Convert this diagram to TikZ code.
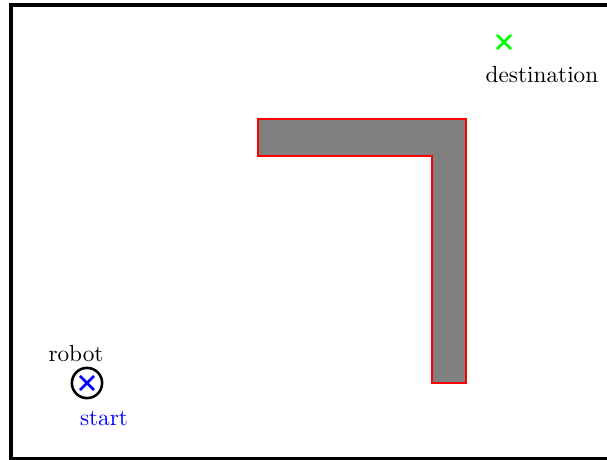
\documentclass[tikz,border=0pt]{standalone}
\usetikzlibrary{shapes.misc}
\begin{document}
\begin{tikzpicture}[x=0.43pt,y=-0.43pt,
  mark/.style={draw=#1,cross out,line width=1.1pt,minimum size=5pt,inner sep=0pt},
  lbl/.style={inner sep=0pt}]
\useasboundingbox (0,0) rectangle (607,459);
\begin{scope}
\clip (0,0) rectangle (607,459);
\draw[line width=1.7pt] (11,5) rectangle (640,459);
\end{scope}
\draw[red,line width=1pt,fill=gray]
  (258,119) -- (466,119) -- (466,383) -- (432,383) -- (432,156) -- (258,156) -- cycle;
\node[mark=green] (dest) at (504,42) {};
\node[lbl,anchor=north] (destlbl) at (542,66) {destination};
\node[draw,circle,line width=1.1pt,minimum size=13pt,inner sep=0pt] (robot) at (87,383) {};
\node[mark=blue] (start) at (robot.center) {};
\node[lbl,anchor=south] (robotlbl) at (76,362) {robot};
\node[lbl,blue,anchor=north] (startlbl) at (104,411) {start};
\end{tikzpicture}
\end{document}
